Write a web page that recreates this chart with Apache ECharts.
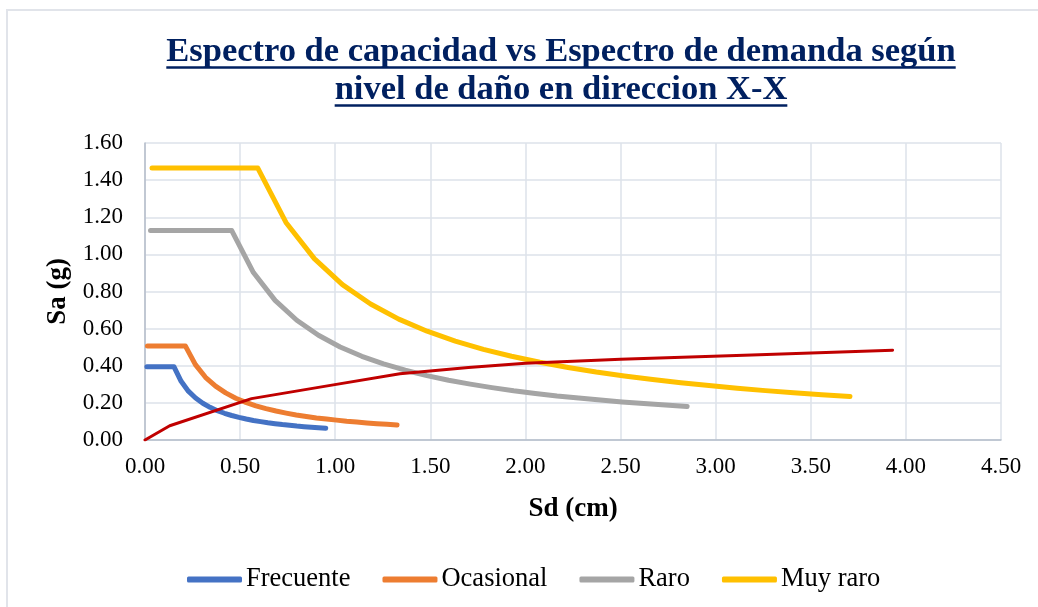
<!DOCTYPE html>
<html>
<head>
<meta charset="utf-8">
<script src="https://cdn.jsdelivr.net/npm/echarts@6/dist/echarts.min.js"></script>
<style>html,body{margin:0;padding:0;background:#fff}#c{width:1038px;height:607px}</style>
</head>
<body>
<div id="c"></div>
<script>
// ---- Data ----
const titleLines = ['Espectro de capacidad vs Espectro de demanda según', 'nivel de daño en direccion X-X'];
const xAxisName = 'Sd (cm)';
const yAxisName = 'Sa (g)';
const seriesNames = ['Frecuente', 'Ocasional', 'Raro', 'Muy raro'];

const sdFrecuente = [0.010,0.038,0.086,0.152,0.190,0.228,0.266,0.304,0.342,0.380,0.418,0.456,0.494,0.532,0.570,0.608,0.646,0.684,0.722,0.760,0.798,0.836,0.874,0.912,0.950];
const saFrecuente = [0.395,0.395,0.395,0.395,0.316,0.263,0.226,0.198,0.176,0.158,0.144,0.132,0.122,0.113,0.105,0.099,0.093,0.088,0.083,0.079,0.075,0.072,0.069,0.066,0.063];

const sdOcasional = [0.013,0.053,0.119,0.212,0.265,0.318,0.371,0.424,0.477,0.530,0.583,0.636,0.689,0.742,0.795,0.848,0.901,0.954,1.007,1.060,1.113,1.166,1.219,1.272,1.325];
const saOcasional = [0.507,0.507,0.507,0.507,0.406,0.338,0.290,0.254,0.225,0.203,0.184,0.169,0.156,0.145,0.135,0.127,0.119,0.113,0.107,0.101,0.097,0.092,0.088,0.085,0.081];

const sdRaro = [0.029,0.114,0.257,0.456,0.570,0.684,0.798,0.912,1.026,1.140,1.254,1.368,1.482,1.596,1.710,1.824,1.938,2.052,2.166,2.280,2.394,2.508,2.622,2.736,2.850];
const saRaro = [1.128,1.128,1.128,1.128,0.902,0.752,0.645,0.564,0.501,0.451,0.410,0.376,0.347,0.322,0.301,0.282,0.265,0.251,0.237,0.226,0.215,0.205,0.196,0.188,0.180];

const sdMuyRaro = [0.037,0.148,0.334,0.593,0.741,0.890,1.038,1.186,1.334,1.483,1.631,1.779,1.927,2.076,2.224,2.372,2.520,2.669,2.817,2.965,3.113,3.262,3.410,3.558,3.706];
const saMuyRaro = [1.465,1.465,1.465,1.465,1.172,0.977,0.837,0.733,0.651,0.586,0.533,0.488,0.451,0.419,0.391,0.366,0.345,0.326,0.308,0.293,0.279,0.266,0.255,0.244,0.234];

const sdCapacidad = [0.000,0.130,0.560,0.990,1.340,1.700,2.000,2.500,3.190,3.200,3.930];
const saCapacidad = [0.000,0.077,0.223,0.297,0.357,0.390,0.413,0.435,0.458,0.463,0.484];

const xMin = 0, xMax = 4.5, xStep = 0.5;
const yMin = 0, yMax = 1.6, yStep = 0.2;

// ---- Chart ----
const zip = (xs, ys) => xs.map((x, i) => [x, ys[i]]);
const FONT = '"Liberation Serif", "Times New Roman", serif';
const NAVY = '#002060';
const chart = echarts.init(document.getElementById('c'), null, {renderer: 'canvas'});

const titleSize = 34.5, titleLH = 38, titleTop = 33, titleCx = 561;
const mctx = document.createElement('canvas').getContext('2d');
mctx.font = 'bold ' + titleSize + 'px ' + FONT;
const underlines = titleLines.map((t, i) => {
  const w = mctx.measureText(t).width;
  const y = titleTop + titleLH * (i + 1) - 3.5;
  return {type: 'line', silent: true,
    shape: {x1: titleCx - w / 2, y1: y, x2: titleCx + w / 2, y2: y},
    style: {stroke: NAVY, lineWidth: 2.5}};
});

const specColors = ['#4472C4', '#ED7D31', '#A5A5A5', '#FFC000'];
const specData = [zip(sdFrecuente, saFrecuente), zip(sdOcasional, saOcasional), zip(sdRaro, saRaro), zip(sdMuyRaro, saMuyRaro)];

const series = seriesNames.map((n, i) => ({
  name: n, type: 'line', data: specData[i], showSymbol: false, symbol: 'none',
  lineStyle: {color: specColors[i], width: 5, cap: 'round', join: 'round'},
  itemStyle: {color: specColors[i]}, animation: false, z: 2
}));
series.push({
  name: 'Capacidad', type: 'line', data: zip(sdCapacidad, saCapacidad), showSymbol: false, symbol: 'none',
  lineStyle: {color: '#C00000', width: 3, cap: 'round', join: 'round'},
  itemStyle: {color: '#C00000'}, animation: false, z: 3
});

chart.setOption({
  backgroundColor: '#ffffff',
  animation: false,
  title: {
    text: titleLines.join('\n'), left: titleCx, top: titleTop, textAlign: 'center', padding: 0,
    textStyle: {fontFamily: FONT, fontWeight: 'bold', fontSize: titleSize, lineHeight: titleLH, color: NAVY}
  },
  graphic: [
    {type: 'rect', silent: true, shape: {x: 7, y: 10, width: 1100, height: 700},
     style: {fill: 'none', stroke: '#E1E4EA', lineWidth: 2}, z: -10},
    ...underlines
  ],
  legend: {
    data: seriesNames, bottom: 9, left: 182, itemWidth: 55, itemHeight: 6, itemGap: 32,
    icon: 'roundRect',
    textStyle: {fontFamily: FONT, fontSize: 26.5, color: '#000', padding: [0, 0, 0, -1]}
  },
  grid: {left: 145, right: 37, top: 143, bottom: 167, containLabel: false},
  xAxis: {
    type: 'value', min: xMin, max: xMax, interval: xStep,
    name: xAxisName, nameLocation: 'middle', nameGap: 56,
    nameTextStyle: {fontFamily: FONT, fontWeight: 'bold', fontSize: 27, color: '#000'},
    axisLine: {show: true, lineStyle: {color: '#B4BDCA', width: 1.5}},
    axisTick: {show: false},
    axisLabel: {fontFamily: FONT, fontSize: 23, color: '#000', margin: 15, formatter: v => v.toFixed(2)},
    splitLine: {show: true, lineStyle: {color: '#DDE2EA', width: 1.5}}
  },
  yAxis: {
    type: 'value', min: yMin, max: yMax, interval: yStep,
    name: yAxisName, nameLocation: 'middle', nameGap: 70, nameRotate: 90,
    nameTextStyle: {fontFamily: FONT, fontWeight: 'bold', fontSize: 27, color: '#000'},
    axisLine: {show: true, lineStyle: {color: '#B4BDCA', width: 1.5}},
    axisTick: {show: false},
    axisLabel: {fontFamily: FONT, fontSize: 23, color: '#000', margin: 22, formatter: v => v.toFixed(2)},
    splitLine: {show: true, lineStyle: {color: '#DDE2EA', width: 1.5}}
  },
  series: series
});
</script>
</body>
</html>
